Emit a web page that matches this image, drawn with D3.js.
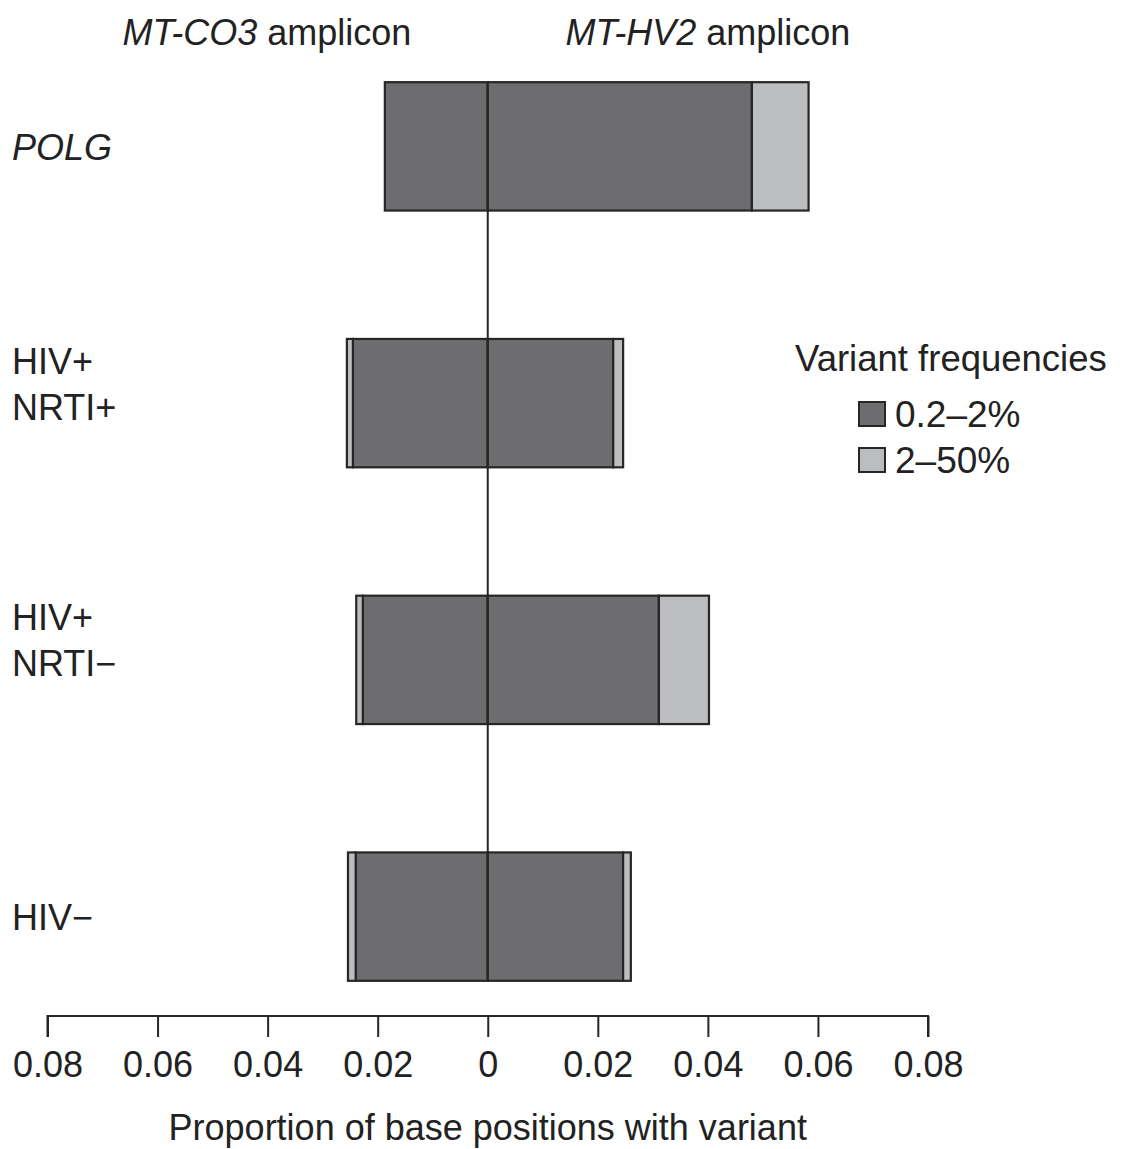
<!DOCTYPE html>
<html>
<head>
<meta charset="utf-8">
<script src="https://cdn.jsdelivr.net/npm/d3@7"></script>
<style>
  body { margin: 0; background: #fff; }
  svg { display: block; font-family: "Liberation Sans", Arial, Helvetica, sans-serif; }
</style>
</head>
<body>
<svg id="chart" width="1125" height="1149"></svg>
<script>
// Groups, top to bottom (label lines; italic for gene name)
const groups = [["POLG"], ["HIV+", "NRTI+"], ["HIV+", "NRTI\u2212"], ["HIV\u2212"]];
const italicGroup = [true, false, false, false];

// MT-CO3 amplicon (drawn to the left): proportion of positions by frequency band
const co3Low = [0.0187, 0.0245, 0.0227, 0.0240];   // 0.2–2%
const co3High = [0.0000, 0.0011, 0.0012, 0.0014];  // 2–50%

// MT-HV2 amplicon (drawn to the right)
const hv2Low = [0.0480, 0.0228, 0.0311, 0.0246];
const hv2High = [0.0103, 0.0018, 0.0091, 0.0014];

const ticks = [-0.08, -0.06, -0.04, -0.02, 0, 0.02, 0.04, 0.06, 0.08];
const legendLabels = ["0.2\u20132%", "2\u201350%"];
const colors = ["#6d6d70", "#bcbdbf"];

const FS = 36;
const svg = d3.select("#chart");
const x = d3.scaleLinear().domain([-0.08, 0.08]).range([47.5, 928]);
const y = d3.scaleBand().domain(d3.range(groups.length)).range([18, 1045]).paddingInner(0.5).paddingOuter(0.25);

const stroke = "#262626";

// stacked segments for each side
groups.forEach((g, i) => {
  const segs = [
    { x0: -co3Low[i], x1: 0, c: colors[0] },
    { x0: -(co3Low[i] + co3High[i]), x1: -co3Low[i], c: colors[1] },
    { x0: 0, x1: hv2Low[i], c: colors[0] },
    { x0: hv2Low[i], x1: hv2Low[i] + hv2High[i], c: colors[1] }
  ].filter(s => s.x1 - s.x0 > 0);
  svg.selectAll(null).data(segs).enter().append("rect")
    .attr("x", s => x(s.x0))
    .attr("y", y(i))
    .attr("width", s => x(s.x1) - x(s.x0))
    .attr("height", y.bandwidth())
    .attr("fill", s => s.c)
    .attr("stroke", stroke)
    .attr("stroke-width", 2.2);
});

// zero line through all bars
svg.append("line")
  .attr("x1", x(0)).attr("x2", x(0))
  .attr("y1", y(0)).attr("y2", y(groups.length - 1) + y.bandwidth())
  .attr("stroke", stroke).attr("stroke-width", 2);

// row labels (two-line labels sit slightly above the bar centre)
groups.forEach((g, i) => {
  const cy = y(i) + y.bandwidth() / 2;
  const lh = 46;
  const first = g.length === 1 ? cy + 1 : cy - 42;
  const t = svg.append("text")
    .attr("x", 12)
    .attr("font-size", FS)
    .attr("fill", "#222")
    .attr("font-style", italicGroup[i] ? "italic" : "normal");
  g.forEach((line, k) => {
    t.append("tspan")
      .attr("x", 12)
      .attr("y", first + k * lh)
      .attr("dy", "0.35em")
      .text(line);
  });
});

// bottom axis
const axis = d3.axisBottom(x).tickValues(ticks).tickSize(21).tickPadding(14)
  .tickFormat(d => d === 0 ? "0" : d3.format(".2f")(Math.abs(d)));
const ag = svg.append("g").attr("transform", "translate(0,1016)").call(axis);
ag.select(".domain").attr("stroke", stroke).attr("stroke-width", 2)
  .attr("d", `M${x(-0.08)},21V0H${x(0.08)}V21`);
ag.selectAll(".tick line").attr("stroke", stroke).attr("stroke-width", 2);
ag.selectAll(".tick text").attr("font-size", FS).attr("fill", "#222")
  .attr("font-family", "'Liberation Sans', Arial, sans-serif");

svg.append("text")
  .attr("x", x(0)).attr("y", 1140)
  .attr("text-anchor", "middle").attr("font-size", FS).attr("fill", "#222")
  .text("Proportion of base positions with variant");

// amplicon headers
const hdr = [
  { cx: 267, gene: "MT-CO3" },
  { cx: 708, gene: "MT-HV2" }
];
hdr.forEach(h => {
  const t = svg.append("text")
    .attr("x", h.cx).attr("y", 45)
    .attr("text-anchor", "middle").attr("font-size", FS).attr("fill", "#222");
  t.append("tspan").attr("font-style", "italic").text(h.gene);
  t.append("tspan").text(" amplicon");
});

// legend
svg.append("text")
  .attr("x", 795).attr("y", 371)
  .attr("font-size", FS + 0.5).attr("fill", "#222")
  .text("Variant frequencies");
legendLabels.forEach((lab, k) => {
  const ly = 402 + k * 46;
  svg.append("rect")
    .attr("x", 859).attr("y", ly)
    .attr("width", 26).attr("height", 24)
    .attr("fill", colors[k]).attr("stroke", stroke).attr("stroke-width", 2);
  svg.append("text")
    .attr("x", 895).attr("y", ly + 12).attr("dy", "0.35em")
    .attr("font-size", FS + 1).attr("fill", "#222")
    .text(lab);
});
</script>
</body>
</html>
